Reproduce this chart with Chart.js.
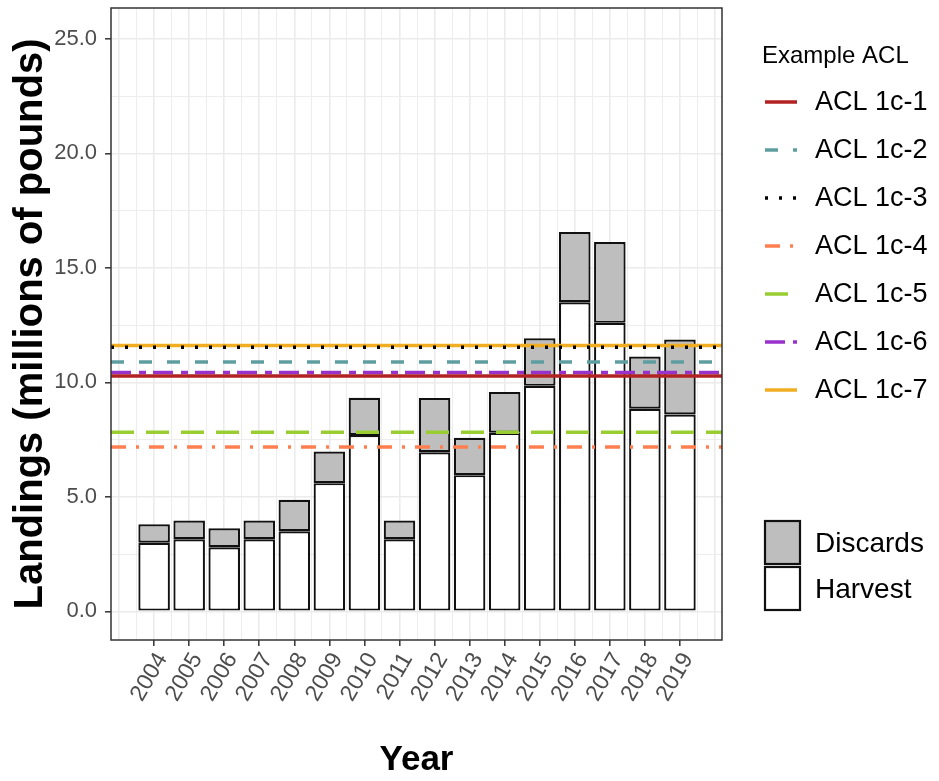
<!DOCTYPE html>
<html>
<head>
<meta charset="utf-8">
<script src="https://cdn.jsdelivr.net/npm/chart.js@4"></script>
<style>
html, body { margin: 0; padding: 0; background: #ffffff; }
</style>
</head>
<body>
<canvas id="myChart" width="939" height="781"></canvas>
<script>
'use strict'

// 年
const years = [2004, 2005, 2006, 2007, 2008, 2009, 2010, 2011,
               2012, 2013, 2014, 2015, 2016, 2017, 2018, 2019];
// 水揚げ (百万ポンド)
const harvest = [3.0, 3.15, 2.8, 3.15, 3.5, 5.6, 7.7, 3.15,
                 6.95, 5.95, 7.8, 9.85, 13.5, 12.6, 8.85, 8.6];
// 投棄量 (百万ポンド)
const discards = [0.8, 0.82, 0.83, 0.82, 1.37, 1.38, 1.63, 0.82,
                  2.37, 1.63, 1.78, 2.08, 3.07, 3.53, 2.28, 3.27];

// ACL の水平線
const aclNames = ["ACL 1c-1", "ACL 1c-2", "ACL 1c-3", "ACL 1c-4", "ACL 1c-5", "ACL 1c-6", "ACL 1c-7"];
const aclValues = [10.28, 10.89, 11.53, 7.18, 7.82, 10.43, 11.61];

// 軸の目盛り
const yTickValues = [0, 2.5, 5, 7.5, 10, 12.5, 15, 17.5, 20, 22.5, 25];
const yTickLabels = ["0.0", "", "5.0", "", "10.0", "", "15.0", "", "20.0", "", "25.0"];
const xLimits = [2002.77, 2020.2];
const yLimits = [-1.25, 26.35];

// 線のスタイル
const aclColors = ["#B22222", "#5F9EA0", "#000000", "#FF7F50", "#9ACD32", "#9932CC", "#F2AE22"];
const aclDashes = [[], [13, 15], [3, 11], [15, 10, 3, 10], [23, 12], [20, 8, 7, 7], []];
const aclDrawOrder = [1, 5, 3, 6, 7, 2, 4];

const fontFamily = '"Liberation Sans", Arial, sans-serif';

function xGridTicks() {
    const ticks = [];
    for (let v = 2003; v <= 2020; v += 0.5) {
        ticks.push({ value: v });
    }
    return ticks;
}

function isYearTick(value) {
    return Number.isInteger(value) && years.indexOf(value) !== -1;
}

function tickValue(c) {
    return (c && c.tick) ? c.tick.value : NaN;
}

function createDatasets() {
    const dataset = [];

    // 目盛りが半年刻みなので barPercentage は 1 年幅の 0.9 倍になるよう 1.8
    dataset.push({
        type: 'bar',
        label: 'Harvest',
        data: years.map((y, i) => ({ x: y, y: harvest[i] })),
        backgroundColor: '#FFFFFF',
        borderColor: '#111111',
        borderWidth: 2.2,
        borderSkipped: false,
        stack: 'bars',
        barPercentage: 1.8,
        categoryPercentage: 1.0,
        order: 19
    });
    dataset.push({
        type: 'bar',
        label: 'Discards',
        data: years.map((y, i) => ({ x: y, y: discards[i] })),
        backgroundColor: '#BEBEBE',
        borderColor: '#111111',
        borderWidth: 2.2,
        borderSkipped: false,
        stack: 'bars',
        barPercentage: 1.8,
        categoryPercentage: 1.0,
        order: 20
    });

    for (let i = 0; i < aclNames.length; i++) {
        dataset.push({
            type: 'line',
            label: aclNames[i],
            data: [{ x: xLimits[0], y: aclValues[i] }, { x: xLimits[1], y: aclValues[i] }],
            borderColor: aclColors[i],
            borderWidth: 3.5,
            borderDash: aclDashes[i],
            borderCapStyle: 'butt',
            pointRadius: 0,
            fill: false,
            order: aclDrawOrder[i]
        });
    }
    return dataset;
}

// パネルの枠線
const panelBorder = {
    id: 'panelBorder',
    afterDatasetsDraw(chart) {
        const a = chart.chartArea;
        const ctx = chart.ctx;
        ctx.save();
        ctx.strokeStyle = '#333333';
        ctx.lineWidth = 1.5;
        ctx.strokeRect(a.left, a.top, a.right - a.left, a.bottom - a.top);
        ctx.restore();
    }
};

// 右側の凡例
const sideLegend = {
    id: 'sideLegend',
    afterDraw(chart) {
        const ctx = chart.ctx;
        ctx.save();
        ctx.fillStyle = '#000000';
        ctx.textBaseline = 'alphabetic';
        ctx.textAlign = 'left';
        ctx.font = '24px ' + fontFamily;
        ctx.fillText('Example ACL', 762, 63);

        ctx.font = '27px ' + fontFamily;
        for (let i = 0; i < aclNames.length; i++) {
            const y = 102 + 48 * i;
            ctx.beginPath();
            ctx.setLineDash(aclDashes[i]);
            ctx.lineCap = 'butt';
            ctx.strokeStyle = aclColors[i];
            ctx.lineWidth = 3.5;
            ctx.moveTo(765, y);
            ctx.lineTo(797, y);
            ctx.stroke();
            ctx.setLineDash([]);
            ctx.textBaseline = 'middle';
            ctx.fillText(aclNames[i], 815, y + 1);
        }

        const boxes = [
            { name: 'Discards', color: '#BEBEBE', y: 521 },
            { name: 'Harvest', color: '#FFFFFF', y: 567 }
        ];
        ctx.font = '28px ' + fontFamily;
        boxes.forEach(b => {
            ctx.fillStyle = b.color;
            ctx.fillRect(765, b.y, 35, 43);
            ctx.strokeStyle = '#111111';
            ctx.lineWidth = 2.2;
            ctx.strokeRect(765, b.y, 35, 43);
            ctx.fillStyle = '#000000';
            ctx.textBaseline = 'middle';
            ctx.fillText(b.name, 815, b.y + 23);
        });
        ctx.restore();
    }
};

function processGraph(canId) {
    const ctx = document.getElementById(canId);

    new Chart(ctx, {
        data: { datasets: createDatasets() },
        plugins: [panelBorder, sideLegend],
        options: {
            responsive: false,
            animation: false,
            devicePixelRatio: 1,
            layout: { autoPadding: false, padding: { left: 0, right: 217, top: 8, bottom: 0 } },
            plugins: {
                legend: { display: false },
                tooltip: { enabled: false }
            },
            scales: {
                x: {
                    type: 'linear',
                    min: xLimits[0],
                    max: xLimits[1],
                    offset: false,
                    afterBuildTicks: scale => { scale.ticks = xGridTicks(); },
                    afterFit: scale => {
                        scale.height = 141;
                        scale.paddingLeft = 0;
                        scale.paddingRight = 0;
                    },
                    border: { display: false },
                    grid: {
                        offset: false,
                        color: '#EBEBEB',
                        lineWidth: c => Number.isInteger(tickValue(c)) ? 1.6 : 0.9,
                        tickLength: 6,
                        tickColor: c => isYearTick(tickValue(c)) ? '#333333' : 'rgba(0,0,0,0)',
                        tickWidth: 1.5
                    },
                    ticks: {
                        autoSkip: false,
                        minRotation: 60,
                        maxRotation: 60,
                        padding: 2,
                        labelOffset: 8,
                        color: '#4D4D4D',
                        font: { family: fontFamily, size: 23 },
                        callback: v => isYearTick(v) ? String(v) : ''
                    },
                    title: {
                        display: true,
                        text: 'Year',
                        color: '#000000',
                        font: { family: fontFamily, size: 35, weight: 'bold' },
                        padding: { top: 0, bottom: 0 }
                    }
                },
                y: {
                    type: 'linear',
                    min: yLimits[0],
                    max: yLimits[1],
                    afterBuildTicks: scale => { scale.ticks = yTickValues.map(v => ({ value: v })); },
                    afterFit: scale => {
                        scale.width = 111;
                        scale.paddingTop = 0;
                        scale.paddingBottom = 0;
                    },
                    border: { display: false },
                    grid: {
                        color: '#EBEBEB',
                        lineWidth: c => (tickValue(c) % 5 === 0) ? 1.6 : 0.9,
                        tickLength: 6,
                        tickColor: c => (tickValue(c) % 5 === 0) ? '#333333' : 'rgba(0,0,0,0)',
                        tickWidth: 1.5
                    },
                    ticks: {
                        padding: 8,
                        color: '#4D4D4D',
                        font: { family: fontFamily, size: 22 },
                        callback: v => yTickLabels[yTickValues.indexOf(v)] || ''
                    },
                    title: {
                        display: true,
                        text: 'Landings (millions of pounds)',
                        color: '#000000',
                        font: { family: fontFamily, size: 40, weight: 'bold' },
                        padding: { top: 7, bottom: 0 }
                    }
                }
            }
        }
    });
}

processGraph('myChart');
</script>
</body>
</html>
